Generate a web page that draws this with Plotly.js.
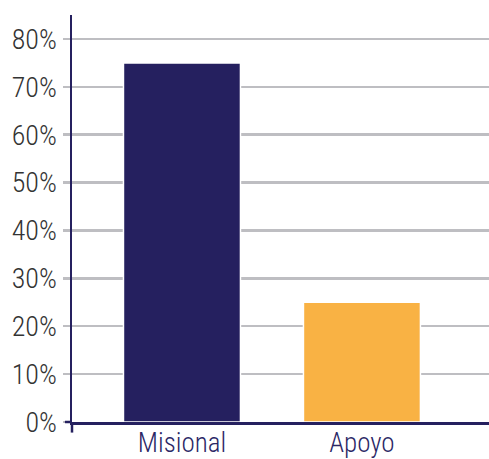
<!DOCTYPE html>
<html>
<head>
<meta charset="utf-8">
<script src="https://cdn.plot.ly/plotly-3.0.1.min.js"></script>
<style>html,body{margin:0;padding:0;background:#fff;}#chart{width:489px;height:459px;}</style>
</head>
<body>
<div id="chart"></div>
<script>
const categories = ["Misional", "Apoyo"];
const values = [75, 25];
const barColors = ["#25205F", "#F9B244"];
const yTickVals = [0, 10, 20, 30, 40, 50, 60, 70, 80];
const yTickText = ["0%", "10%", "20%", "30%", "40%", "50%", "60%", "70%", "80%"];

const fontFam = "'Roboto Condensed', 'Roboto', sans-serif";

const trace = {
  type: "bar",
  x: categories,
  y: values,
  width: 0.65,
  marker: {color: barColors, line: {color: "#ffffff", width: 1.5}},
  hoverinfo: "skip"
};

const layout = {
  width: 489, height: 459,
  margin: {l: 72, r: 0, t: 15, b: 37, pad: 0},
  paper_bgcolor: "#fff", plot_bgcolor: "#fff",
  showlegend: false,
  font: {family: fontFam, weight: 300},
  xaxis: {
    type: "category",
    range: [-0.611, 1.706],
    showgrid: false, zeroline: false,
    showline: true, linecolor: "#25205F", linewidth: 2.5,
    ticks: "", tickfont: {family: fontFam, weight: 300, size: 27, color: "#2B2766"},
    ticklabelstandoff: -5
  },
  yaxis: {
    range: [0, 85],
    tickvals: yTickVals, ticktext: yTickText,
    showgrid: true, gridcolor: "#BEBEC2", gridwidth: 2.5,
    zeroline: false,
    showline: true, linecolor: "#25205F", linewidth: 2.5,
    ticks: "outside", ticklen: 7, tickwidth: 2.5, tickcolor: "#BEBEC2",
    tickfont: {family: fontFam, weight: 300, size: 28, color: "#333333"},
    ticklabelstandoff: 0
  },
  shapes: [
    {type: "line", xref: "paper", yref: "paper", x0: 0, x1: 0, y0: 0, y1: -0.026,
     line: {color: "#25205F", width: 2.5}},
    {type: "line", xref: "paper", yref: "paper", x0: -0.017, x1: 0, y0: 0, y1: 0,
     line: {color: "#25205F", width: 2.5}}
  ]
};

Plotly.newPlot("chart", [trace], layout, {displayModeBar: false, staticPlot: true});
</script>
</body>
</html>
